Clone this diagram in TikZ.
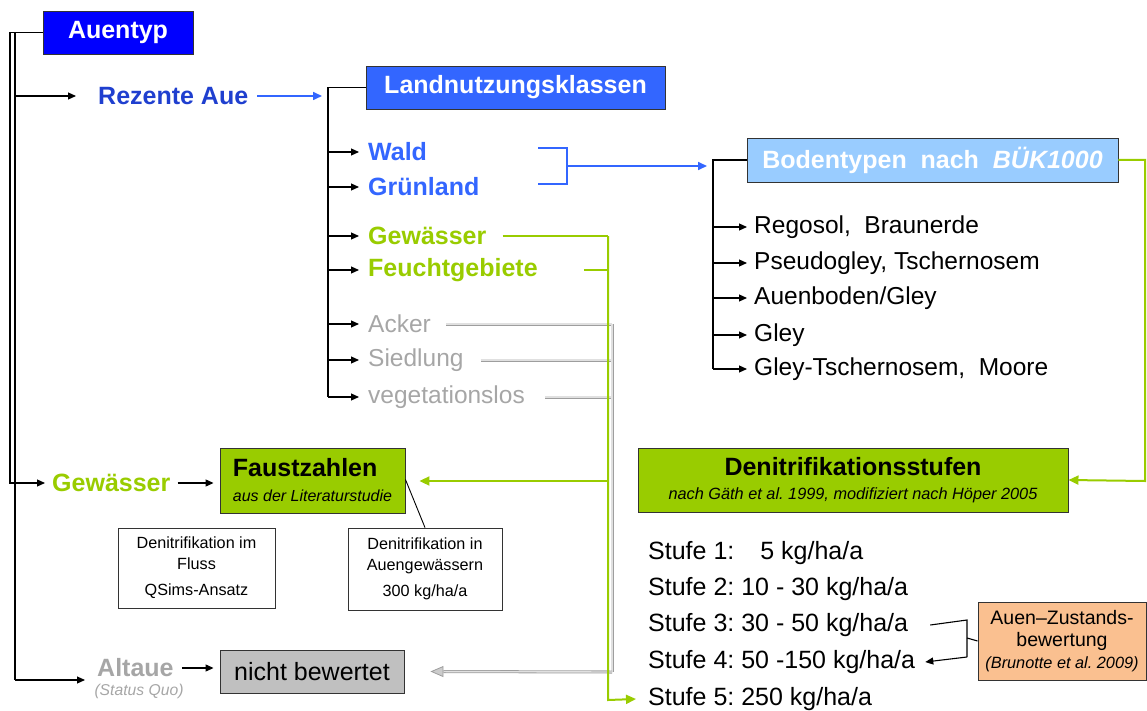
\documentclass[tikz,border=0pt]{standalone}
\usepackage{fontspec}
\setmainfont{Liberation Sans}
\usetikzlibrary{arrows.meta}
\definecolor{cblue}{HTML}{0000FF}
\definecolor{dblue}{HTML}{1F3FCF}
\definecolor{mblue}{HTML}{3366FF}
\definecolor{lblue}{HTML}{99CCFF}
\definecolor{cgreen}{HTML}{99CC00}
\definecolor{cgray}{HTML}{A6A6A6}
\definecolor{boxgray}{HTML}{C0C0C0}
\definecolor{corange}{HTML}{FAC090}
\newcommand{\fs}[2]{\fontsize{#1}{#2}\selectfont}
\tikzset{
  box/.style={draw=black!80, line width=0.9pt, inner sep=0pt},
  lbl/.style={inner sep=0pt, anchor=west},
  head/.style={font=\fs{25}{30}\bfseries},
  body/.style={font=\fs{24.5}{29}},
  conn/.style={line width=1.1pt, black},
  arr/.style={conn, -{Triangle[length=8pt,width=7pt]}},
  bconn/.style={line width=1.6pt, mblue},
  barr/.style={bconn, -{Triangle[length=9pt,width=8pt]}},
  gconn/.style={line width=2pt, cgreen},
  garr/.style={gconn, -{Triangle[length=10pt,width=9pt]}},
  gline/.style={draw=black!38, double=black!12, double distance=1.4pt, line width=0.8pt},
  grarr/.style={gline, -{Triangle[length=13pt,width=11pt,fill=black!20]}},
}
\begin{document}
\frenchspacing
\begin{tikzpicture}[x=1pt,y=-1pt]
\useasboundingbox (0,0) rectangle (1147,711);

% ---------- nodes ----------
\node[box, fill=cblue, minimum width=150pt, minimum height=43pt, text=white, head] (auentyp) at (118,32.5) {Auentyp};
\node[lbl, text=dblue, head] (rezente) at (98,96) {Rezente Aue};
\node[box, fill=mblue, minimum width=299pt, minimum height=43pt, text=white, head] (landnutz) at (515.5,87.5) {Landnutzungsklassen};

\node[lbl, text=mblue, head] (wald) at (368,152) {Wald};
\node[lbl, text=mblue, head] (gruen) at (368,187) {Grünland};
\node[lbl, text=cgreen, head] (gew1) at (368,236) {Gewässer};
\node[lbl, text=cgreen, head] (feucht) at (368,270) {Feuchtgebiete};
\node[lbl, text=cgray, body] (acker) at (368,324) {Acker};
\node[lbl, text=cgray, body] (siedl) at (368,360) {Siedlung};
\node[lbl, text=cgray, body] (veget) at (368,397) {vegetationslos};

\node[box, fill=lblue, minimum width=371pt, minimum height=44pt, text=white, head] (boden) at (932.5,160) {Bodentypen\ \ nach\ \ \textit{BÜK1000}};
\node[lbl, body] (s1) at (754,227) {Regosol,\ \ Braunerde};
\node[lbl, body] (s2) at (754,263) {Pseudogley,\ Tschernosem};
\node[lbl, body] (s3) at (754,298) {Auenboden/Gley};
\node[lbl, body] (s4) at (754,335) {Gley};
\node[lbl, body] (s5) at (754,369) {Gley-Tschernosem,\ \ Moore};

\node[lbl, text=cgreen, head] (gewL) at (52,483) {Gewässer};
\node[box, fill=cgreen, minimum width=185pt, minimum height=65pt, align=left, font=\fs{16}{25}] (faust) at (312.5,480.5)
  {{\fs{25}{30}\bfseries Faustzahlen}\\{\itshape aus der Literaturstudie}};
\node[box, line width=0.8pt, minimum width=157pt, minimum height=80pt, align=center, font=\fs{16.2}{21}] (small1) at (196.5,568)
  {Denitrifikation im\\Fluss\\[5pt]QSims-Ansatz};
\node[box, line width=0.8pt, minimum width=154pt, minimum height=82pt, align=center, font=\fs{16.2}{21}] (small2) at (425,569)
  {Denitrifikation in\\Auengewässern\\[5pt]300 kg/ha/a};

\node[lbl, text=cgray, head] (altaue) at (97,668) {Altaue};
\node[anchor=center, inner sep=0pt, text=cgray, font=\fs{15.7}{18}\itshape] (status) at (139,691) {(Status Quo)};
\node[box, fill=boxgray, minimum width=184pt, minimum height=43pt, font=\fs{25}{30}] (nichtb) at (312,671.5) {nicht bewertet};

\node[box, fill=cgreen, minimum width=430pt, minimum height=64pt, align=center, font=\fs{16.3}{24}] (denit) at (853,480)
  {{\fs{25}{30}\bfseries Denitrifikationsstufen}\\{\itshape nach Gäth et al. 1999, modifiziert nach Höper 2005}};

\node[lbl, body, font=\fs{25}{30}] (st1) at (648,553) {Stufe 1:\hspace{26pt}5 kg/ha/a};
\node[lbl, body, font=\fs{25}{30}] (st2) at (648,589) {Stufe 2: 10 - 30 kg/ha/a};
\node[lbl, body, font=\fs{25}{30}] (st3) at (648,625) {Stufe 3: 30 - 50 kg/ha/a};
\node[lbl, body, font=\fs{25}{30}] (st4) at (648,662) {Stufe 4: 50 -150 kg/ha/a};
\node[lbl, body, font=\fs{25}{30}] (st5) at (648,699) {Stufe 5: 250 kg/ha/a};

\node[box, fill=corange, minimum width=168pt, minimum height=78pt, align=center, font=\fs{19.5}{22}] (auen) at (1062,641)
  {Auen--Zustands-\\bewertung\\{\fs{16.3}{20}\itshape (Brunotte et al. 2009)}};

% ---------- coordinates ----------
\coordinate (o1) at (10,32.5);
\coordinate (o2) at (10,483);
\coordinate (i1) at (15,32.5);
\coordinate (i2) at (15,680);
\coordinate (altin) at (85,680);
\coordinate (lk) at (328,87.5);
\coordinate (lkend) at (328,397);
\coordinate (bw1) at (538,148);
\coordinate (bw2) at (538,184);
\coordinate (bwt) at (567,148);
\coordinate (bwb) at (567,184);
\coordinate (bwm) at (567,166);
\coordinate (bk) at (713,160);
\coordinate (bkend) at (713,369);
\coordinate (gr1) at (1145,160);
\coordinate (gr2) at (1145,481);
\coordinate (gv) at (608,236);
\coordinate (gvf) at (608,270);
\coordinate (gvm) at (608,481);
\coordinate (gvb) at (608,700);
\coordinate (yv) at (612,324);
\coordinate (yvs) at (612,360);
\coordinate (yvv) at (612,397);
\coordinate (yvb) at (612,672);
\coordinate (ab1) at (967,620);
\coordinate (ab2) at (967,657);
\coordinate (abm) at (967,638);

% ---------- connectors ----------
% left tree
\draw[conn] (auentyp.west) -- (o1);
\draw[arr] (o1) -- (o2) -- ([xshift=-7pt]gewL.west);
\draw[conn] (i1) -- (i2);
\draw[arr] (i2) -- (altin);
\draw[arr] (i1 |- rezente.west) -- ([xshift=-22pt]rezente.west);

% Rezente Aue -> Landnutzungsklassen
\draw[barr] ([xshift=9pt]rezente.east) -- ([xshift=-6pt]lk |- rezente.east);
\draw[conn] (landnutz.west) -- (lk) -- (lkend);
\foreach \n in {wald,gruen,gew1,feucht,acker,siedl}
  \draw[arr] (lk |- \n.west) -- ([xshift=-9pt]\n.west);
\draw[arr] (lkend) -- ([xshift=-9pt]veget.west);

% Wald/Grünland bracket -> Bodentypen
\draw[bconn] (bw1) -- (bwt) -- (bwb) -- (bw2);
\draw[barr] (bwm) -- ([xshift=-6pt]bk |- bwm);
\draw[conn] (boden.west) -- (bk) -- (bkend);
\foreach \n in {s1,s2,s3,s4}
  \draw[arr] (bk |- \n.west) -- ([xshift=-7pt]\n.west);
\draw[arr] (bkend) -- ([xshift=-7pt]s5.west);

% Bodentypen -> Denitrifikationsstufen
\draw[garr] (boden.east) -- (gr1) -- (gr2) -- (denit.east);

% gray lines -> nicht bewertet
\draw[gline] ([xshift=15pt]acker.east) -- (yv);
\draw[gline] ([xshift=17pt]siedl.east) -- (yvs);
\draw[gline] ([xshift=20pt]veget.east) -- (yvv);
\draw[gline] (yv) -- (yvb);
\draw[grarr] (yvb) -- ([xshift=26pt]nichtb.east);

% green lines
\draw[gconn] ([xshift=16pt]gew1.east) -- (gv);
\draw[gconn] ([xshift=46pt]feucht.east) -- (gvf);
\draw[garr] (gv) -- (gvb) -- ([xshift=-12pt]st5.west);
\draw[garr] (gvm) -- ([xshift=14pt]faust.east |- gvm);

% Gewässer / Altaue arrows
\draw[arr] ([xshift=7pt]gewL.east) -- ([xshift=-6pt]faust.west |- gewL.east);
\draw[arr] ([xshift=8pt]altaue.east) -- ([xshift=-6pt]nichtb.west |- altaue.east);
\draw[conn, line width=0.9pt] ([yshift=1pt]faust.east) -- (small2.north);

% Auen-Zustandsbewertung bracket
\draw[conn] ([xshift=22pt]st3.east) -- (ab1) -- (ab2);
\draw[arr] (ab2) -- ([xshift=10pt]st4.east);
\draw[conn] (abm) -- (auen.west);
\end{tikzpicture}
\end{document}
